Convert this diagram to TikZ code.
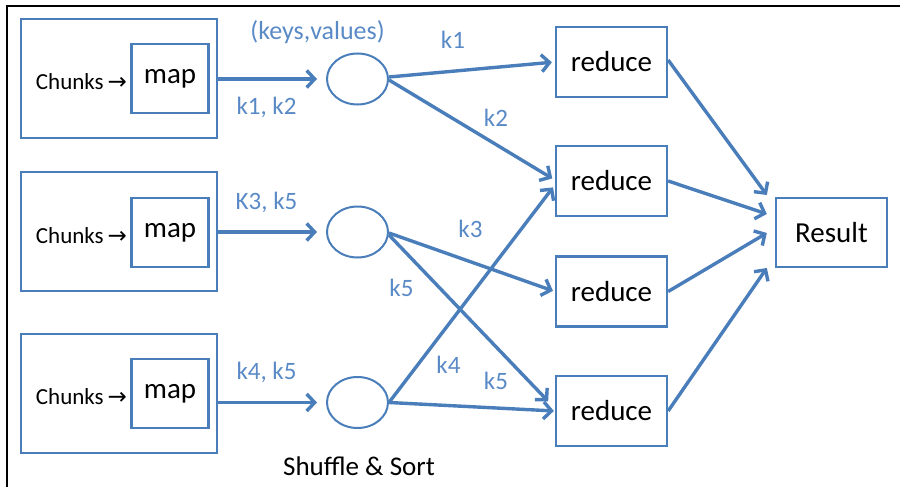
\documentclass[tikz,border=0pt]{standalone}
\usepackage{fontspec}
\setmainfont{Carlito}
\newfontfamily\arrowfont{DejaVu Sans}
\usetikzlibrary{arrows.meta,shapes.geometric,calc}
\definecolor{ablue}{HTML}{4A7EBB}
\definecolor{tblue}{HTML}{5A8AC6}
\begin{document}
\begin{tikzpicture}[x=1pt,y=-1pt,
  box/.style={draw=ablue, line width=2.3pt, inner sep=0pt, rectangle},
  outerbox/.style={box, minimum width=196pt, minimum height=119pt},
  mapbox/.style={box, minimum width=77pt, minimum height=69pt, font=\fontsize{29}{32}\selectfont},
  redbox/.style={box, minimum width=111pt, minimum height=70pt, font=\fontsize{29}{32}\selectfont},
  shuf/.style={draw=ablue, line width=2pt, ellipse, minimum width=61pt, minimum height=51pt, inner sep=0pt},
  conn/.style={draw=ablue, line width=3.4pt, -{Straight Barb[length=8pt,width=17pt,line width=3.4pt]}},
  lab/.style={text=tblue, inner sep=0pt, font=\fontsize{25}{28}\selectfont},
  chunk/.style={inner sep=0pt, anchor=east, font=\fontsize{23}{26}\selectfont}]
\useasboundingbox (0,0) rectangle (900,487);
\draw[line width=2pt] (7,487) -- (7,6) -- (900,6);

% map stage
\node[outerbox] (o1) at (119,78.5) {};
\node[outerbox] (o2) at (119,231.5) {};
\node[outerbox] (o3) at (119,393.5) {};
\node[mapbox] (m1) at (170,78.5) {map};
\node[mapbox] (m2) at (170,232.5) {map};
\node[mapbox] (m3) at (170,393.5) {map};
\node[chunk] (ch1) at (127,82) {Chunks\,{\arrowfont →}};
\node[chunk] (ch2) at (127,236) {Chunks\,{\arrowfont →}};
\node[chunk] (ch3) at (127,397) {Chunks\,{\arrowfont →}};

% shuffle circles
\node[shuf] (c1) at (357.5,79) {};
\node[shuf] (c2) at (357.5,232) {};
\node[shuf] (c3) at (357.5,402.5) {};

% reducers
\node[redbox] (r1) at (611.5,62) {reduce};
\node[redbox] (r2) at (611.5,181) {reduce};
\node[redbox] (r3) at (611.5,291.5) {reduce};
\node[redbox] (r4) at (611.5,411) {reduce};
\node[redbox, minimum height=69pt] (res) at (831.5,232.5) {Result};

% map -> shuffle
\draw[conn, shorten >=9pt] (o1.east |- c1.west) -- (c1.west);
\draw[conn, shorten >=9pt] (o2.east |- c2.west) -- (c2.west);
\draw[conn, shorten >=9pt] (o3.east |- c3.west) -- (c3.west);

% shuffle -> reduce
\draw[conn, shorten >=3pt] ($(c1.east)+(0,-2)$) -- (r1.west);
\draw[conn, shorten >=3pt] ($(c1.east)+(0,1)$) -- ($(r2.west)+(0,-1)$);
\draw[conn, shorten >=2pt] ($(c2.east)+(0,1)$) -- (r3.west);
\draw[conn, shorten >=1pt] ($(c2.east)+(0,3)$) -- ($(r4.west)+(-6,-9)$);
\draw[conn, shorten >=3pt] (c3.east) -- ($(r2.west)+(0,4)$);
\draw[conn, shorten >=1pt] (c3.east) -- (r4.west);

% reduce -> result
\draw[conn] ($(r1.east)+(0,-2)$) -- ($(res.west)+(-8,-37.5)$);
\draw[conn] (r2.east) -- ($(res.west)+(-8,-18.5)$);
\draw[conn] (r3.east) -- ($(res.west)+(-8,0.5)$);
\draw[conn] (r4.east) -- ($(res.west)+(-8,35.5)$);

% labels
\node[lab, font=\fontsize{26}{29}\selectfont] (kv) at (317.5,32) {(keys,values)};
\node[lab] (l12) at (266.5,107) {k1, k2};
\node[lab] (l35) at (266.5,202) {K3, k5};
\node[lab] (l45) at (266.5,372) {k4, k5};
\node[lab] (lk1) at (453,40) {k1};
\node[lab] (lk2) at (496,118) {k2};
\node[lab] (lk3) at (470.5,229) {k3};
\node[lab] (lk5a) at (401.5,288) {k5};
\node[lab] (lk4) at (448.5,365) {k4};
\node[lab] (lk5b) at (496,381) {k5};
\node[inner sep=0pt, font=\fontsize{27}{30}\selectfont] (ss) at (359,466) {Shuffle \& Sort};
\end{tikzpicture}
\end{document}
